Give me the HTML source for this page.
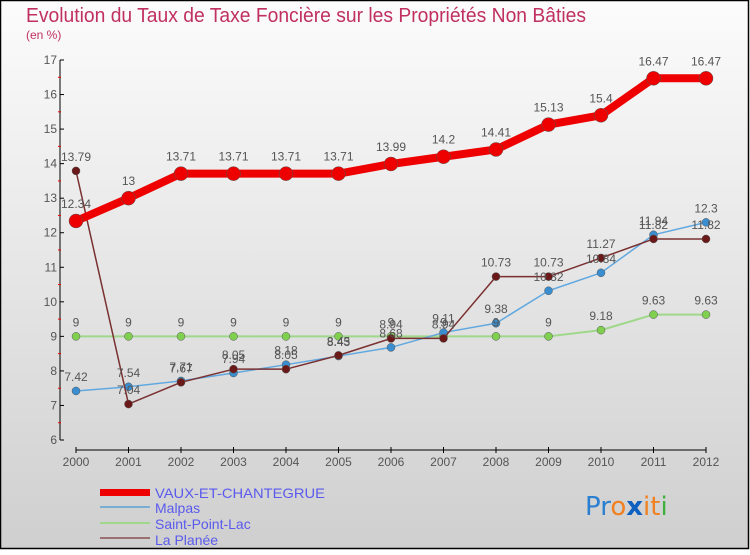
<!DOCTYPE html>
<html><head><meta charset="utf-8"><style>
html,body{margin:0;padding:0;}
body{width:750px;height:550px;overflow:hidden;font-family:"Liberation Sans",sans-serif;}
</style></head><body>
<svg id="chart" width="750" height="550" xmlns="http://www.w3.org/2000/svg">
<defs><linearGradient id="bg" x1="0" y1="0" x2="0" y2="1"><stop offset="0" stop-color="#fcfcfc"/><stop offset="1" stop-color="#cfcfcf"/></linearGradient></defs>
<rect x="0.5" y="0.5" width="748" height="548" fill="url(#bg)" stroke="#000" stroke-width="1.5"/>
<text x="26" y="22" font-size="20" fill="#c03060" textLength="560" lengthAdjust="spacingAndGlyphs">Evolution du Taux de Taxe Foncière sur les Propriétés Non Bâties</text>
<text x="26" y="39" font-size="12" fill="#c03060">(en %)</text>
<g id="axes"></g><g id="series"></g><g id="labels"></g>
<g font-size="14" fill="#5a5aee">
<rect x="100" y="489" width="50" height="7" fill="#e00"/>
<text x="155" y="498" textLength="170" lengthAdjust="spacingAndGlyphs">VAUX-ET-CHANTEGRUE</text>
<line x1="100" y1="507" x2="150" y2="507" stroke="#7aaed0" stroke-width="2"/>
<text x="155" y="513">Malpas</text>
<line x1="100" y1="523" x2="150" y2="523" stroke="#9fd88a" stroke-width="2"/>
<text x="155" y="529">Saint-Point-Lac</text>
<line x1="100" y1="538" x2="150" y2="538" stroke="#9a7070" stroke-width="2"/>
<text x="155" y="545">La Planée</text>
</g>
<text x="585" y="515" font-size="26" font-family="DejaVu Sans, sans-serif"><tspan fill="#2a7fd0">Pr</tspan><tspan fill="#f08020">o</tspan><tspan fill="#1060c0" font-weight="bold">x</tspan><tspan fill="#f08020">it</tspan><tspan fill="#40b040">i</tspan></text>
</svg>
<script>
const years=[2000,2001,2002,2003,2004,2005,2006,2007,2008,2009,2010,2011,2012];
const vaux=[12.34,13,13.71,13.71,13.71,13.71,13.99,14.2,14.41,15.13,15.4,16.47,16.47];
const malpas=[7.42,7.54,7.71,7.94,8.18,8.43,8.68,9.11,9.38,10.32,10.84,11.94,12.3];
const saintPoint=[9,9,9,9,9,9,9,9,9,9,9.18,9.63,9.63];
const planee=[13.79,7.04,7.67,8.05,8.05,8.45,8.94,8.94,10.73,10.73,11.27,11.82,11.82];
const yTicks=[6,7,8,9,10,11,12,13,14,15,16,17];
const NS="http://www.w3.org/2000/svg";
const xS=i=>76+i*52.5;
const yS=v=>440-(v-6)*(380/11);
function mk(tag,attrs,parent){const e=document.createElementNS(NS,tag);for(const k in attrs)e.setAttribute(k,attrs[k]);parent.appendChild(e);return e;}
const ax=document.getElementById('axes');
let l=mk('line',{x1:60,y1:60,x2:60,y2:440,stroke:'#000','stroke-width':1},ax);


l=mk('line',{x1:76,y1:450,x2:706,y2:450,stroke:'#000','stroke-width':1},ax);


yTicks.forEach(t=>{
  mk('line',{x1:60,y1:yS(t),x2:64,y2:yS(t),stroke:'#000'},ax);
  if(t<17) mk('line',{x1:58,y1:yS(t+0.5),x2:61,y2:yS(t+0.5),stroke:'#e00'},ax);
  const tx=mk('text',{x:57,y:yS(t)+4,'font-size':12,fill:'#555','text-anchor':'end'},ax);
  tx.textContent=t;
  
  
});
years.forEach((y,i)=>{
  mk('line',{x1:xS(i),y1:447,x2:xS(i),y2:453,stroke:'#000'},ax);
  const tx=mk('text',{x:xS(i),y:466,'font-size':12,fill:'#555','text-anchor':'middle'},ax);
  tx.textContent=y;
  
  
});
const sg=document.getElementById('series'),lg=document.getElementById('labels');
function draw(vals,name,color,w,r,stroke){
  const g=mk('g',{},sg);
  
  
  const p=mk('polyline',{points:vals.map((v,i)=>xS(i)+','+yS(v)).join(' '),fill:'none',stroke:color,'stroke-width':w,'stroke-linejoin':'round'},g);
  
  
  vals.forEach((v,i)=>{
    const c=mk('circle',{cx:xS(i),cy:yS(v),r:r,fill:stroke||color,stroke:'#555','stroke-width':0.5},g);
    
    
    const t=mk('text',{x:xS(i),y:yS(v)-(r+6),'font-size':12,fill:'#555','text-anchor':'middle'},lg);
    t.textContent=v;
    
    
  });
}
draw(saintPoint,'saint-point-lac','#9fd88a',2,4,'#80d050');
draw(malpas,'malpas','#60a8e0',1.5,4,'#3a8ed0');
draw(planee,'la-planee','#7a3030',1.5,4,'#6a1818');
draw(vaux,'vaux','#e00',8,7,'#e00');
</script>
</body></html>
